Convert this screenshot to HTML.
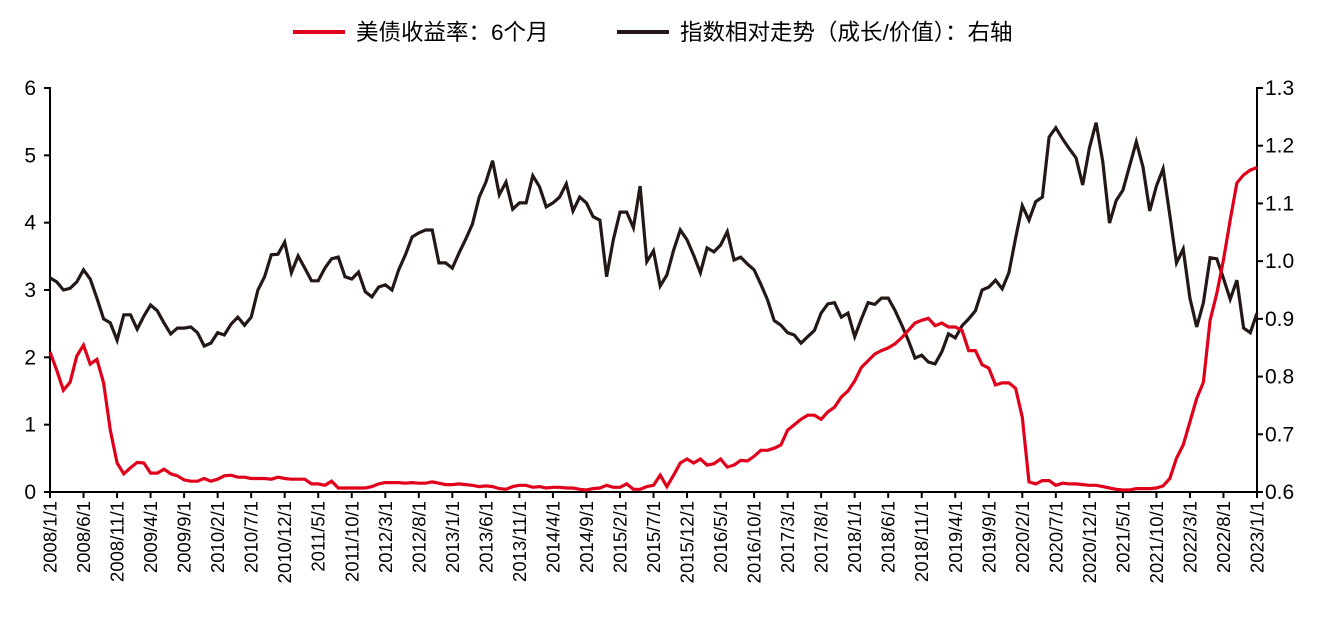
<!DOCTYPE html>
<html><head><meta charset="utf-8"><style>
body{margin:0;background:#fff;}
svg{display:block;font-family:"Liberation Sans","Noto Sans CJK SC",sans-serif;}
</style></head><body>
<svg id="chart" width="1326" height="621">
<g>
<line x1="293" y1="32" x2="345" y2="32" stroke="#e0001b" stroke-width="4"/>
<text x="356" y="40" font-size="22.5" fill="#000">美债收益率：6个月</text>
<line x1="617" y1="32" x2="669" y2="32" stroke="#231815" stroke-width="4"/>
<text x="680" y="40" font-size="22.5" fill="#000">指数相对走势（成长/价值）：右轴</text>
</g>
<g id="axes"></g>
<g id="series"></g>
</svg>
<script>
const startYear = 2008;
const yieldVals = [
2.08,1.81,1.51,1.63,2.02,2.18,1.9,1.97,1.62,0.92,0.43,0.27,
0.36,0.44,0.43,0.28,0.28,0.34,0.27,0.24,0.18,0.16,0.16,0.2,
0.16,0.19,0.24,0.25,0.22,0.22,0.2,0.2,0.2,0.19,0.22,0.2,
0.19,0.19,0.19,0.12,0.12,0.1,0.16,0.06,0.06,0.06,0.06,0.06,
0.08,0.12,0.14,0.14,0.14,0.13,0.14,0.13,0.13,0.15,0.13,0.11,
0.11,0.12,0.11,0.1,0.08,0.09,0.08,0.05,0.04,0.08,0.1,0.1,
0.07,0.08,0.06,0.07,0.07,0.06,0.06,0.04,0.03,0.05,0.06,0.1,
0.07,0.07,0.12,0.04,0.04,0.08,0.1,0.25,0.08,0.25,0.43,0.49,
0.43,0.49,0.4,0.42,0.49,0.37,0.4,0.47,0.46,0.53,0.62,0.62,
0.65,0.7,0.92,1.0,1.08,1.14,1.14,1.08,1.19,1.26,1.41,1.5,
1.65,1.85,1.95,2.05,2.1,2.14,2.2,2.29,2.4,2.51,2.55,2.58,
2.47,2.51,2.45,2.45,2.4,2.1,2.1,1.89,1.84,1.59,1.62,1.62,
1.54,1.11,0.15,0.12,0.17,0.17,0.1,0.13,0.12,0.12,0.11,0.1,
0.1,0.08,0.06,0.04,0.03,0.03,0.05,0.05,0.05,0.06,0.09,0.2,
0.5,0.7,1.04,1.39,1.63,2.55,2.95,3.45,4.04,4.59,4.71,4.78,
4.82];
const ratioVals = [
0.971,0.964,0.95,0.953,0.964,0.985,0.969,0.936,0.9,0.893,0.863,0.907,
0.907,0.882,0.905,0.924,0.914,0.893,0.874,0.884,0.884,0.886,0.876,0.853,
0.858,0.876,0.872,0.891,0.903,0.889,0.903,0.95,0.973,1.011,1.012,1.033,
0.98,1.009,0.988,0.966,0.966,0.988,1.004,1.007,0.973,0.969,0.981,0.947,
0.938,0.955,0.959,0.95,0.985,1.011,1.042,1.049,1.054,1.054,0.997,0.997,
0.988,1.014,1.038,1.064,1.111,1.137,1.174,1.115,1.137,1.09,1.101,1.101,
1.148,1.129,1.094,1.101,1.111,1.134,1.087,1.111,1.101,1.077,1.071,0.973,
1.037,1.085,1.085,1.058,1.13,0.999,1.018,0.957,0.976,1.019,1.054,1.037,
1.01,0.98,1.023,1.016,1.028,1.051,1.002,1.007,0.995,0.985,0.96,0.933,
0.897,0.889,0.876,0.872,0.858,0.869,0.88,0.91,0.926,0.928,0.903,0.91,
0.869,0.9,0.928,0.925,0.936,0.936,0.915,0.89,0.863,0.832,0.837,0.825,
0.822,0.843,0.874,0.867,0.888,0.9,0.914,0.95,0.955,0.967,0.952,0.98,
1.04,1.096,1.071,1.103,1.111,1.215,1.231,1.212,1.195,1.179,1.132,1.196,
1.24,1.172,1.066,1.105,1.123,1.165,1.207,1.163,1.087,1.13,1.16,1.08,
0.997,1.021,0.936,0.886,0.928,1.006,1.004,0.97,0.934,0.967,0.884,0.876,
0.91];
const leftTicks = [0,1,2,3,4,5,6];
const rightTicks = [0.6,0.7,0.8,0.9,1.0,1.1,1.2,1.3];
const labelEvery = 5;

const NS='http://www.w3.org/2000/svg';
const X0=50,X1=1257,Y0=492,Y1=88;
const nPts=181;
const xOf=i=>X0+(X1-X0)*i/(nPts-1);
const yL=v=>Y0-(Y0-Y1)*(v-0)/6;
const yR=v=>Y0-(Y0-Y1)*(v-0.6)/0.7;
function mk(tag,attrs,parent){const e=document.createElementNS(NS,tag);for(const k in attrs)e.setAttribute(k,attrs[k]);parent.appendChild(e);return e;}
const axes=document.getElementById('axes');
const series=document.getElementById('series');

const la=mk('line',{x1:X0,y1:Y1-1,x2:X0,y2:Y0+1,stroke:'#000','stroke-width':2},axes);


const ra=mk('line',{x1:X1,y1:Y1-1,x2:X1,y2:Y0+1,stroke:'#000','stroke-width':2},axes);


const xa=mk('line',{x1:X0,y1:Y0,x2:X1,y2:Y0,stroke:'#000','stroke-width':2},axes);



leftTicks.forEach(v=>{
  const y=yL(v);
  const t=mk('line',{x1:X0-6,y1:y,x2:X0,y2:y,stroke:'#000','stroke-width':2},axes);
  
  
  const tx=mk('text',{x:X0-14,y:y+7,'font-size':21,'text-anchor':'end',fill:'#000'},axes);
  tx.textContent=String(v);
  
  
});
rightTicks.forEach(v=>{
  const y=yR(v);
  const t=mk('line',{x1:X1,y1:y,x2:X1+6,y2:y,stroke:'#000','stroke-width':2},axes);
  
  
  const tx=mk('text',{x:X1+8,y:y+7,'font-size':21,'text-anchor':'start',fill:'#000'},axes);
  tx.textContent=v.toFixed(1);
  
  
});
for(let i=0;i<nPts;i+=labelEvery){
  const x=xOf(i);
  const t=mk('line',{x1:x,y1:Y0,x2:x,y2:Y0+6,stroke:'#000','stroke-width':2},axes);
  
  
  const yr=startYear+Math.floor(i/12), mo=i%12+1;
  const tx=mk('text',{x:0,y:0,'font-size':18.5,'text-anchor':'end',fill:'#000',transform:`translate(${x+6.5},${Y0+9}) rotate(-90)`},axes);
  tx.textContent=`${yr}/${mo}/1`;
  
  
}
const rp=ratioVals.map((v,i)=>`${i?'L':'M'}${xOf(i).toFixed(1)},${yR(v).toFixed(1)}`).join('');
const p1=mk('path',{d:rp,fill:'none',stroke:'#231815','stroke-width':3.2,'stroke-linejoin':'miter'},series);


const yp=yieldVals.map((v,i)=>`${i?'L':'M'}${xOf(i).toFixed(1)},${yL(v).toFixed(1)}`).join('');
const p2=mk('path',{d:yp,fill:'none',stroke:'#e0001b','stroke-width':3.2,'stroke-linejoin':'miter'},series);


</script>
</body></html>
